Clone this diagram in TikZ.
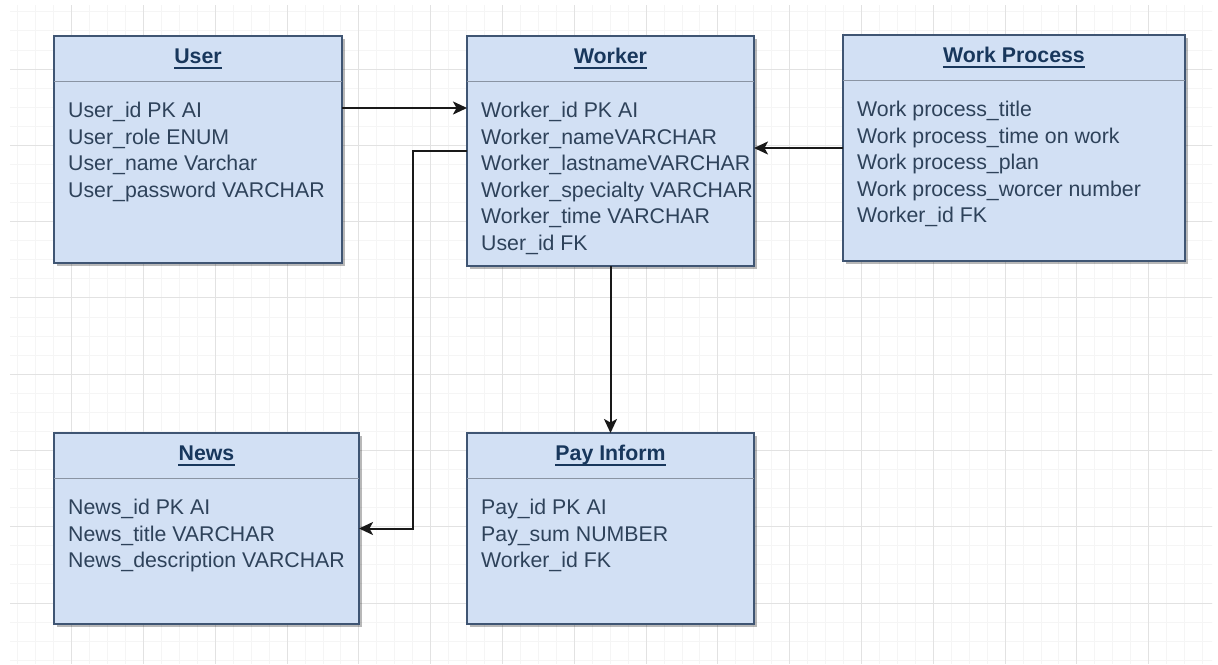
\documentclass[tikz,border=0pt]{standalone}
\usepackage{fontspec}
\setmainfont{Liberation Sans}
\usetikzlibrary{arrows.meta,shadows,calc}
\definecolor{boxfill}{HTML}{D2E0F4}
\definecolor{boxline}{HTML}{3F5573}
\definecolor{sepline}{HTML}{8A94A3}
\definecolor{fieldtext}{HTML}{2E425A}
\definecolor{titletext}{HTML}{18375C}
\definecolor{gridmajor}{HTML}{E2E2E2}
\definecolor{gridminor}{HTML}{F5F5F5}
\tikzset{
  entity/.style={draw=boxline, line width=2.2pt, fill=boxfill, inner sep=0pt, outer sep=0pt,
    drop shadow={shadow xshift=3pt, shadow yshift=-3pt, fill=black, opacity=0.28}},
  sepstyle/.style={draw=sepline, line width=1.5pt},
  titlestyle/.style={inner sep=0pt, text=titletext, font=\fontsize{21.3}{26.6}\selectfont\bfseries},
  ulstyle/.style={draw=titletext, line width=1.8pt},
  fieldstyle/.style={inner sep=0pt, text=fieldtext, font=\fontsize{21.3}{26.6}\selectfont},
  conn/.style={draw=black!90, line width=2pt, -{Stealth[length=14pt,width=13pt,inset=3.5pt]}},
  gminor/.style={draw=gridminor, line width=0.8pt},
  gmajor/.style={draw=gridmajor, line width=1pt},
}
\newcommand\erbox[7]{%
  \node[entity, minimum width=#4pt, minimum height=#5pt, anchor=north west] (#1) at (#2,#3) {};
  \draw[sepstyle] ([yshift=-45.5pt]#1.north west) -- ([yshift=-45.5pt]#1.north east);
  \node[titlestyle, anchor=base] (#1-title) at ([yshift=-27.5pt]#1.north) {#6};
  \draw[ulstyle] ([yshift=-4.5pt]#1-title.base west) -- ([yshift=-4.5pt]#1-title.base east);
  \foreach \f [count=\i] in {#7} {
    \pgfmathsetmacro\dy{-81.5-26.6*(\i-1)}
    \node[fieldstyle, anchor=base west] (#1-f\i) at ([xshift=14pt,yshift=\dy pt]#1.north west) {\f};
  }
}
\begin{document}
\begin{tikzpicture}[x=1pt,y=-1pt]
\useasboundingbox (0,0) rectangle (1218,664);
\fill[white] (0,0) rectangle (1218,664);
% grid
\begin{scope}
  \clip (10,5) rectangle (1212,664);
  \foreach \k in {-4,...,64} \draw[gminor] ({71.6+17.95*\k},0) -- ({71.6+17.95*\k},664);
  \foreach \k in {-4,...,36} \draw[gminor] (0,{69+19.07*\k}) -- (1218,{69+19.07*\k});
  \foreach \k in {-1,...,16} \draw[gmajor] ({71.6+71.8*\k},0) -- ({71.6+71.8*\k},664);
  \foreach \k in {-1,...,9} \draw[gmajor] (0,{69+76.3*\k}) -- (1218,{69+76.3*\k});
\end{scope}
% entities
\erbox{user}{54}{36}{288}{227}{User}{User\_id PK AI,User\_role ENUM,User\_name Varchar,User\_password VARCHAR}
\erbox{worker}{467}{36}{287}{230}{Worker}{Worker\_id PK AI,Worker\_nameVARCHAR,Worker\_lastnameVARCHAR,Worker\_specialty VARCHAR,Worker\_time VARCHAR,User\_id FK}
\erbox{wp}{843}{35}{342}{226}{Work Process}{Work process\_title,Work process\_time on work,Work process\_plan,Work process\_worcer number,Worker\_id FK}
\erbox{news}{54}{433}{305}{191}{News}{News\_id PK AI,News\_title VARCHAR,News\_description VARCHAR}
\erbox{pay}{467}{433}{287}{191}{Pay Inform}{Pay\_id PK AI,Pay\_sum NUMBER,Worker\_id FK}
% connectors
\draw[conn] ([yshift=-72pt]user.north east) -- ([yshift=-72pt]user.north east -| worker.west);
\draw[conn] (wp.west) -- (wp.west -| worker.east);
\draw[conn] (worker.west) -- ++(-54,0) |- (news.east);
\draw[conn] (worker.south) -- (pay.north);
\end{tikzpicture}
\end{document}
